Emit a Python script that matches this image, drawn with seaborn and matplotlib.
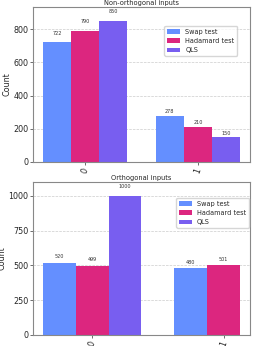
import pandas as pd
import matplotlib
matplotlib.use("Agg")
import matplotlib.pyplot as plt
import seaborn as sns

# measured outcome counts (1000 shots)
outcomes = ["0", "1"]
methods = ["Swap test", "Hadamard test", "QLS"]
colors = ["#648fff", "#dc267f", "#785ef0"]

nonorth_swap = [722, 278]
nonorth_hadamard = [790, 210]
nonorth_qls = [850, 150]

orth_swap = [520, 480]
orth_hadamard = [499, 501]
orth_qls = [1000, 0]


def to_frame(swap, hadamard, qls):
    rows = []
    for name, vals in zip(methods, [swap, hadamard, qls]):
        for outcome, v in zip(outcomes, vals):
            # zero-count bars are not drawn
            if v > 0:
                rows.append({"outcome": outcome, "method": name, "count": v})
    return pd.DataFrame(rows)


sns.set_style("ticks")
plt.rcParams["font.family"] = ["DejaVu Sans"]

fig = plt.figure(figsize=(2.54, 3.46), dpi=100)
ax_top = fig.add_axes([0.130, 0.532, 0.854, 0.448])
ax_bot = fig.add_axes([0.130, 0.032, 0.854, 0.442])

panels = [
    (ax_top, to_frame(nonorth_swap, nonorth_hadamard, nonorth_qls), "Non-orthogonal inputs",
     [0, 200, 400, 600, 800], (-0.4625, 1.4625), (0.94, 0.877)),
    (ax_bot, to_frame(orth_swap, orth_hadamard, orth_qls), "Orthogonal inputs",
     [0, 250, 500, 750, 1000], (-0.45, 1.2), (0.995, 0.895)),
]

for ax, df, title, yticks, xlim, legend_anchor in panels:
    sns.barplot(data=df, x="outcome", y="count", hue="method",
                order=outcomes, hue_order=methods, palette=colors,
                width=0.75, saturation=1, errorbar=None, linewidth=0,
                zorder=2, ax=ax)

    # value labels just above each bar
    for bars in ax.containers:
        for rect in bars:
            h = rect.get_height()
            if h > 0:
                ax.text(rect.get_x() + rect.get_width() / 2, 1.05 * h, str(int(h)),
                        ha="center", va="bottom", fontsize=3.5, color="#333333", zorder=3)

    ax.set_ylim(0, df["count"].max() * 1.1)
    ax.set_yticks(yticks)
    ax.set_xlim(*xlim)
    ax.yaxis.grid(True, linestyle="--", color="#cccccc", linewidth=0.5, zorder=0)
    ax.set_axisbelow(True)
    for s in ax.spines.values():
        s.set_visible(True)
        s.set_color("#888888")
        s.set_linewidth(0.8)
    ax.tick_params(axis="both", labelsize=5.8, length=2, width=0.6, color="#555555", pad=1.5)
    ax.tick_params(axis="x", labelrotation=70)
    ax.set_xlabel("")
    ax.set_ylabel("Count", fontsize=5.8, labelpad=1)
    ax.set_title(title, fontsize=4.8, pad=1.5)
    ax.legend(loc="upper right", bbox_to_anchor=legend_anchor, borderaxespad=0,
              fontsize=4.7, title=None)

fig.savefig("out.png", dpi=100)
